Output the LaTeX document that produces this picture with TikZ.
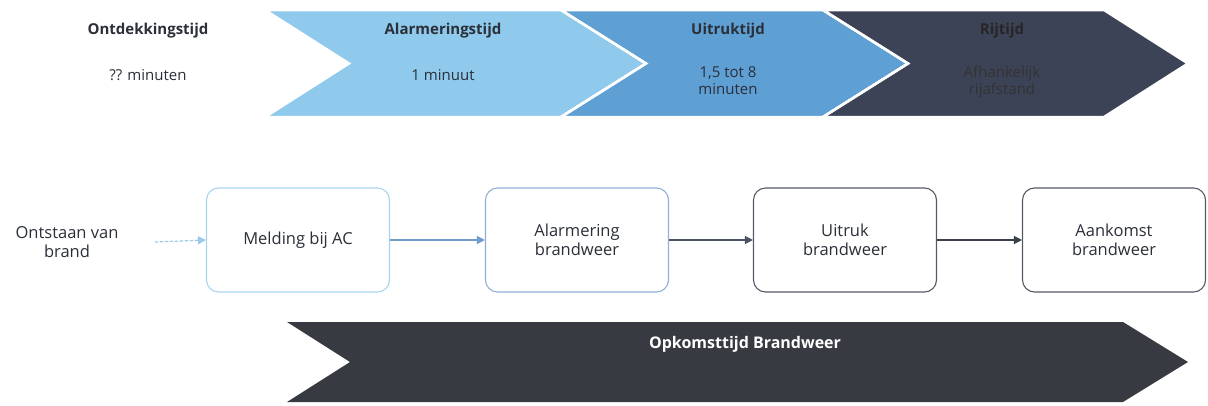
\documentclass[tikz,border=0pt]{standalone}
\usepackage{fontspec}
\setmainfont{Open Sans}
\usetikzlibrary{arrows.meta}
\definecolor{chevA}{HTML}{8FC9EC}
\definecolor{chevB}{HTML}{5E9FD4}
\definecolor{chevC}{HTML}{3C4356}
\definecolor{chevD}{HTML}{383A42}
\definecolor{txtdark}{HTML}{2B2F38}
\definecolor{boxA}{HTML}{A9D3EE}
\definecolor{boxB}{HTML}{8FB0D3}
\definecolor{boxC}{HTML}{555A66}
\definecolor{arrA}{HTML}{9CC9E8}
\definecolor{arrB}{HTML}{6E9CCB}
\definecolor{arrC}{HTML}{4A5264}
\definecolor{arrD}{HTML}{3A3F4A}
\tikzset{
  chevshape/.style={draw=white, line width=2.5pt, line join=miter},
  ttl/.style={font=\fontsize{15}{17}\selectfont\bfseries, text=txtdark, inner sep=0pt},
  sub/.style={font=\fontsize{15}{17}\selectfont, text=txtdark, align=center, inner sep=0pt},
  stepbox/.style={rounded corners=12pt, minimum width=183pt, minimum height=104pt, line width=1.1pt,
    font=\fontsize{16.5}{19}\selectfont, text=txtdark, align=center, fill=white},
  conn/.style={line width=1.2pt, -{Triangle[length=8pt,width=8pt]}},
}
\begin{document}
\begin{tikzpicture}[x=1pt,y=-1pt]
\useasboundingbox (0,0) rectangle (1208,405);
% top chevrons
\fill[chevA, chevshape] (265,10) -- (561,10) -- (646,63.5) -- (561,117) -- (265,117) -- (349,63.5) -- cycle;
\fill[chevB, chevshape] (561,10) -- (823,10) -- (908,63.5) -- (823,117) -- (561,117) -- (646,63.5) -- cycle;
\fill[chevC, chevshape] (823,10) -- (1104,10) -- (1188,63.5) -- (1104,117) -- (823,117) -- (908,63.5) -- cycle;
\draw[chevshape] (561,10) -- (646,63.5) -- (561,117);
\draw[chevshape] (823,10) -- (908,63.5) -- (823,117);
% chevron labels
\node[ttl] (t1) at (148,31) {Ontdekkingstijd};
\node[sub] (s1) at (148,75) {?? minuten};
\node[ttl] (t2) at (443,31) {Alarmeringstijd};
\node[sub] (s2) at (443,75) {1 minuut};
\node[ttl] (t3) at (728,31) {Uitruktijd};
\node[sub] (s3) at (728,81) {1,5 tot 8\\minuten};
\node[ttl, text=black!85] (t4) at (1002,31) {Rijtijd};
\node[sub, text=black!80] (s4) at (1002,82) {Afhankelijk\\rijafstand};
% process row
\node[font=\fontsize{16.5}{19}\selectfont, text=txtdark, align=center] (src) at (67,242) {Ontstaan van\\brand};
\node[stepbox, draw=boxA] (b1) at (298,240) {Melding bij AC};
\node[stepbox, draw=boxB] (b2) at (577,240) {Alarmering\\brandweer};
\node[stepbox, draw=boxC] (b3) at (845,240) {Uitruk\\brandweer};
\node[stepbox, draw=boxC] (b4) at (1114,240) {Aankomst\\brandweer};
\coordinate (start) at (155,242);
\draw[conn, draw=arrA, fill=arrA, dash pattern=on 3pt off 2pt] (start) -- (b1.west);
\draw[conn, draw=arrB, fill=arrB] (b1) -- (b2);
\draw[conn, draw=arrC, fill=arrC] (b2) -- (b3);
\draw[conn, draw=arrD, fill=arrD] (b3) -- (b4);
% bottom chevron
\fill[chevD] (287,322) -- (1123,322) -- (1188,362) -- (1123,402) -- (287,402) -- (350,362) -- cycle;
\node[font=\fontsize{16}{19}\selectfont\bfseries, text=white] (opk) at (745,344) {Opkomsttijd Brandweer};
\end{tikzpicture}
\end{document}
